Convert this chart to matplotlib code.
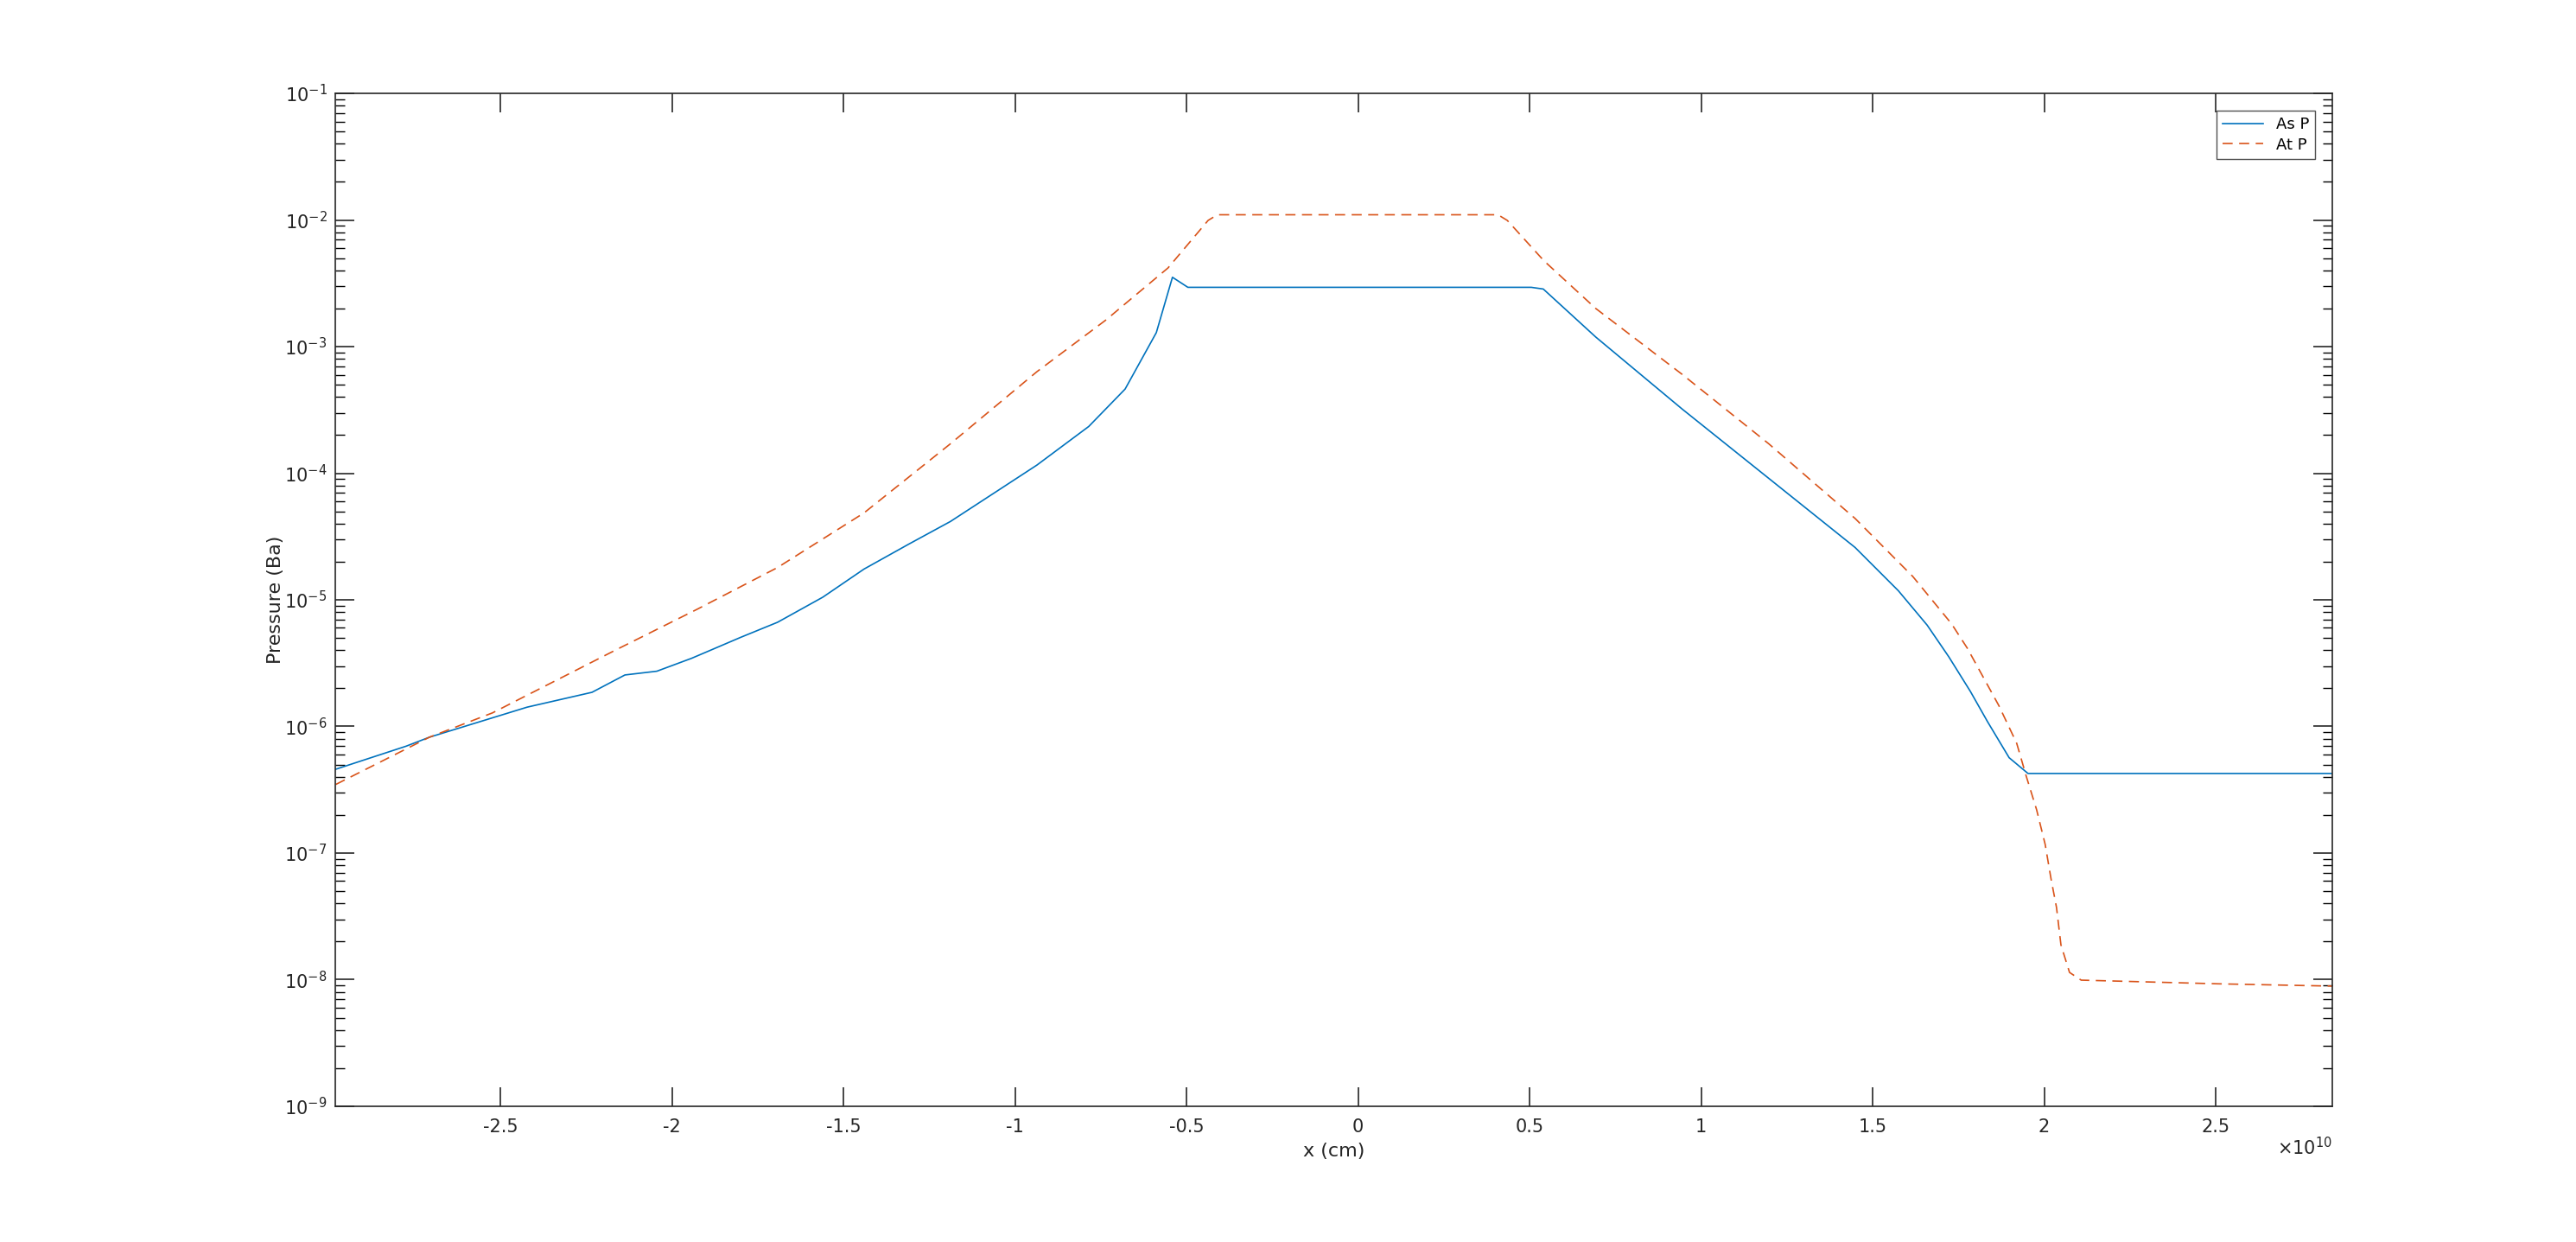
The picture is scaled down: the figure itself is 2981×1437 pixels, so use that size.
import numpy as np
import matplotlib.pyplot as plt
from matplotlib.ticker import FuncFormatter, LogLocator, NullFormatter

# x positions in units of 1e10 cm, pressures in Ba
x_as = [-2.98, -2.775, -2.707, -2.422, -2.233, -2.137, -2.044, -1.943, -1.893,
        -1.80, -1.692, -1.56, -1.44, -1.31, -1.188, -1.06, -0.936, -0.785,
        -0.679, -0.588, -0.541, -0.496, 0.505, 0.540, 0.693, 0.945, 1.197,
        1.449, 1.575, 1.659, 1.722, 1.785, 1.835, 1.898, 1.953, 2.84]
p_as = [4.59e-7, 6.98e-7, 8.22e-7, 1.42e-6, 1.86e-6, 2.55e-6, 2.73e-6, 3.45e-6,
        3.94e-6, 5.05e-6, 6.65e-6, 1.05e-5, 1.75e-5, 2.75e-5, 4.16e-5, 7.0e-5,
        1.16e-4, 2.34e-4, 4.62e-4, 1.29e-3, 3.53e-3, 2.94e-3, 2.94e-3, 2.85e-3,
        1.19e-3, 3.21e-4, 9.12e-5, 2.59e-5, 1.18e-5, 6.31e-6, 3.55e-6, 1.89e-6,
        1.09e-6, 5.66e-7, 4.25e-7, 4.25e-7]

x_at = [-2.98, -2.707, -2.523, -2.162, -1.927, -1.692, -1.44, -1.188, -0.936,
        -0.734, -0.684, -0.554, -0.437, -0.410, 0.408, 0.435, 0.542, 0.693,
        0.945, 1.197, 1.449, 1.617, 1.730, 1.776, 1.868, 1.920, 1.948, 1.978,
        2.003, 2.020, 2.036, 2.049, 2.074, 2.108, 2.507, 2.84]
p_at = [3.48e-7, 8.22e-7, 1.28e-6, 4.04e-6, 8.41e-6, 1.80e-5, 4.86e-5, 1.71e-4,
        6.34e-4, 1.63e-3, 2.12e-3, 4.18e-3, 9.93e-3, 1.10e-2, 1.10e-2, 9.93e-3,
        4.76e-3, 2.00e-3, 6.03e-4, 1.71e-4, 4.39e-5, 1.53e-5, 6.47e-6, 4.15e-6,
        1.46e-6, 7.36e-7, 4.03e-7, 2.20e-7, 1.17e-7, 6.27e-8, 3.72e-8, 1.88e-8,
        1.14e-8, 9.91e-9, 9.27e-9, 8.89e-9]

x_ticks = [-2.5, -2, -1.5, -1, -0.5, 0, 0.5, 1, 1.5, 2, 2.5]
scale = 1e10

fig = plt.figure(figsize=(29.81, 14.37), dpi=100)
ax = fig.add_axes([0.1302, 0.1093, 0.7752, 0.8155])

ax.plot(np.array(x_as) * scale, p_as, color='#0072BD', lw=1.2, label='As P')
ax.plot(np.array(x_at) * scale, p_at, color='#D95319', lw=1.2,
        dashes=(7, 4.5), label='At P')

ax.set_yscale('log')
ax.set_xlim(-2.981 * scale, 2.84 * scale)
ax.set_ylim(1e-9, 1e-1)
ax.set_xticks(np.array(x_ticks) * scale)
ax.xaxis.set_major_formatter(FuncFormatter(lambda v, _: f"{v / scale:g}"))
ax.yaxis.set_major_locator(LogLocator(base=10, numticks=20))
ax.yaxis.set_minor_locator(LogLocator(base=10, subs=np.arange(2, 10), numticks=20))
ax.yaxis.set_minor_formatter(NullFormatter())

ax.tick_params(which='major', direction='in', length=16, width=1.2,
               top=True, right=True, labelsize=15, colors='#262626')
ax.tick_params(axis='x', pad=10)
ax.tick_params(axis='y', pad=7)
ax.tick_params(which='minor', direction='in', length=8, width=1.0,
               top=True, right=True)
for s in ax.spines.values():
    s.set_color('#262626')
    s.set_linewidth(1.2)

ax.set_xlabel('x (cm)', fontsize=16, color='#262626', labelpad=6)
ax.set_ylabel('Pressure (Ba)', fontsize=16, color='#262626', labelpad=0)
ax.text(1.0, -0.03, r'$\times10^{10}$', transform=ax.transAxes, ha='right',
        va='top', fontsize=15, color='#262626')

leg = ax.legend(loc='upper right', fontsize=13, frameon=True, fancybox=False,
                borderaxespad=1.1, handlelength=2.6, borderpad=0.4,
                labelspacing=0.3)
leg.get_frame().set_edgecolor('#262626')
leg.get_frame().set_linewidth(1.0)

plt.savefig("out.png", dpi=100)
